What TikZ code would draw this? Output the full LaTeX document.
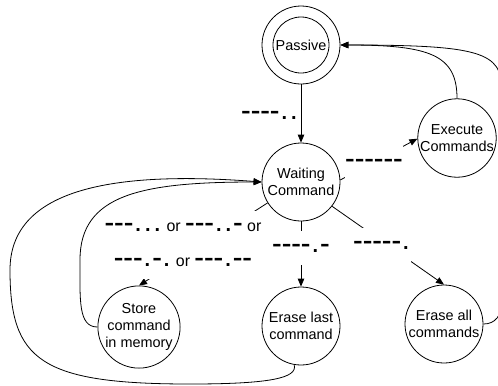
\documentclass[tikz,border=0pt]{standalone}
\usepackage{fontspec}
\setmainfont{Liberation Sans}
\usetikzlibrary{arrows.meta}
% Morse symbols: each one sits in a fixed-width cell; dashes are heavy bars
\newcommand{\mD}{\makebox[9.6bp]{\bfseries\scalebox{0.92}[1.6]{–}}}
\newcommand{\mP}{\makebox[9.6bp]{\bfseries\scalebox{1.25}{.}}}
\begin{document}
\begin{tikzpicture}[x=1bp,y=-1bp,
  state/.style={circle,draw,line width=0.8bp,minimum size=78bp,inner sep=0pt,
    align=center,font=\fontsize{14.5}{17}\selectfont},
  edge/.style={line width=0.8bp,-{Triangle[length=8bp,width=6.5bp]}},
  lbl/.style={fill=white,inner sep=0pt,minimum height=34bp,
    font=\fontsize{16}{35}\selectfont}]
\useasboundingbox (0,0) rectangle (498,385);

% states
\node[state] (pas) at (301,45) {Passive};
\draw[line width=0.8bp] (pas.center) circle[radius=28bp];
\node[state] (wait) at (301,182) {Waiting\\Command};
\node[state] (exe) at (457,138) {Execute\\Commands};
\node[state] (store) at (139,327) {Store\\command\\in memory};
\node[state] (elast) at (301,326) {Erase last\\command};
\node[state] (eall) at (444,324) {Erase all\\commands};

% transitions
\draw[edge] (pas) -- (wait);
\draw[edge] (wait.3) -- (exe.181);
\draw[edge] (exe.north) .. controls (457,55) and (430,45) .. (pas.east);
\draw[edge] (eall.east) .. controls (495,324) and (502,316) .. (502,300)
  -- (502,90) .. controls (502,52) and (480,45) .. (pas.east);
\draw[edge] (wait.212) -- (store.north);
\draw[edge] (wait) -- (elast);
\draw[edge] (wait.-38) -- (eall.north);
\draw[edge] (store.west) .. controls (78,327) and (80,300) .. (80,260)
  .. controls (80,195) and (140,182) .. (wait.west);
\draw[edge] (elast.-100) .. controls (298,378) and (270,384) .. (190,384)
  .. controls (40,384) and (10,360) .. (10,270)
  .. controls (10,192) and (105,170) .. (wait.west);

% transition labels
\node[lbl] (l1) at (270,115) {\mD\mD\mD\mD\mP\mP};
\node[lbl] (l2) at (374,163) {\mD\mD\mD\mD\mD\mD};
\node[lbl,align=center,minimum height=68bp] (l3) at (183,245)
  {\mD\mD\mD\mP\mP\mP\ or \mD\mD\mD\mP\mP\mD\ or\\
   \mD\mD\mD\mP\mD\mP\ or \mD\mD\mD\mP\mD\mD};
\node[lbl] (l4) at (301,248) {\mD\mD\mD\mD\mP\mD};
\node[lbl] (l5) at (382,245) {\mD\mD\mD\mD\mD\mP};
\end{tikzpicture}
\end{document}
